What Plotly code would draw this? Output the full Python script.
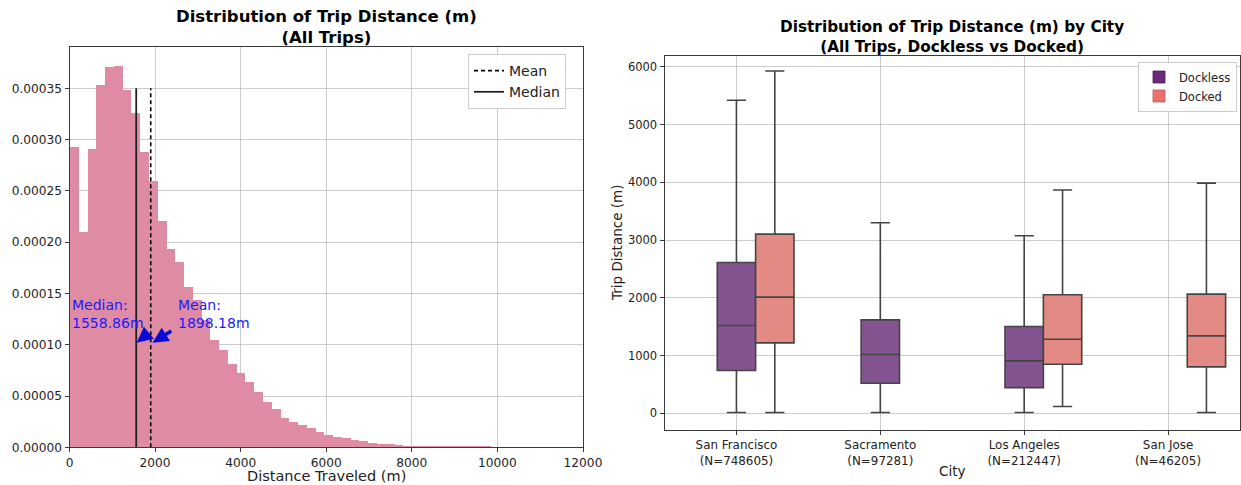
import plotly.graph_objects as go

# ---------------- data: left histogram ----------------
BIN_WIDTH = 205  # metres per histogram bin (bins start at 0)
DENSITY = [
    2.931e-4, 2.102e-4, 2.908e-4, 3.539e-4, 3.711e-4, 3.720e-4, 3.483e-4, 3.266e-4, 2.882e-4, 2.596e-4,
    2.209e-4, 1.936e-4, 1.807e-4, 1.566e-4, 1.436e-4, 1.241e-4, 1.046e-4, 9.55e-5, 8.12e-5, 7.31e-5,
    6.40e-5, 5.42e-5, 4.42e-5, 3.76e-5, 2.92e-5, 2.54e-5, 2.22e-5, 1.88e-5, 1.57e-5, 1.27e-5,
    1.05e-5, 9.7e-6, 7.8e-6, 6.4e-6, 4.5e-6, 3.9e-6, 3.2e-6, 2.5e-6, 2.0e-6, 1.6e-6,
    1.4e-6, 1.1e-6, 9e-7, 8e-7, 7e-7, 7e-7, 6e-7, 6e-7, 5e-7, 5e-7, 5e-7,
]
MEAN_DIST = 1898.18
MEDIAN_DIST = 1558.86
LINE_TOP = 0.00035
HIST_X_TICKS = [0, 2000, 4000, 6000, 8000, 10000, 12000]
HIST_Y_TICKS = [0, 0.00005, 0.0001, 0.00015, 0.0002, 0.00025, 0.0003, 0.00035]

# ---------------- data: right box plot ----------------
CITIES = ["San Francisco", "Sacramento", "Los Angeles", "San Jose"]
CITY_N = [748605, 97281, 212447, 46205]

DOCKLESS_CITIES = ["San Francisco", "Sacramento", "Los Angeles"]
DOCKLESS_LOW = [12, 12, 12]
DOCKLESS_Q1 = [740, 520, 445]
DOCKLESS_MED = [1520, 1017, 908]
DOCKLESS_Q3 = [2613, 1618, 1503]
DOCKLESS_HIGH = [5422, 3301, 3075]

DOCKED_CITIES = ["San Francisco", "Los Angeles", "San Jose"]
DOCKED_LOW = [12, 116, 12]
DOCKED_Q1 = [1220, 850, 803]
DOCKED_MED = [2012, 1283, 1341]
DOCKED_Q3 = [3104, 2052, 2064]
DOCKED_HIGH = [5931, 3867, 3988]

BOX_Y_TICKS = [0, 1000, 2000, 3000, 4000, 5000, 6000]

# ---------------- styling ----------------
FONT = "DejaVu Sans"
GRID = "rgba(185,185,185,0.75)"
SPINE = "#3a3a3a"
HIST_COLOR = "#e08ba4"
DOCKLESS_FILL = "#845490"
DOCKED_FILL = "#e48a84"
DOCKLESS_LEG = "#6b2a7c"
DOCKED_LEG = "#e8736c"
BOX_LINE = "#444444"

W, H = 1241, 485

def px_x(p):
    return p / W

def px_y(p):
    return 1 - p / H

fig = go.Figure()

# histogram
bin_centers = [BIN_WIDTH * (i + 0.5) for i in range(len(DENSITY))]
fig.add_trace(go.Bar(
    x=bin_centers, y=DENSITY, width=BIN_WIDTH,
    marker=dict(color=HIST_COLOR, line=dict(width=0)),
    showlegend=False, xaxis="x", yaxis="y",
))
fig.add_trace(go.Scatter(
    x=[MEAN_DIST, MEAN_DIST], y=[0, LINE_TOP], mode="lines",
    line=dict(color="black", width=1.6, dash="4px,3px"), name="Mean",
    xaxis="x", yaxis="y", legend="legend",
))
fig.add_trace(go.Scatter(
    x=[MEDIAN_DIST, MEDIAN_DIST], y=[0, LINE_TOP], mode="lines",
    line=dict(color="#222222", width=1.8), name="Median",
    xaxis="x", yaxis="y", legend="legend",
))

# box plots
fig.add_trace(go.Box(
    x=DOCKLESS_CITIES, q1=DOCKLESS_Q1, median=DOCKLESS_MED, q3=DOCKLESS_Q3,
    lowerfence=DOCKLESS_LOW, upperfence=DOCKLESS_HIGH,
    fillcolor=DOCKLESS_FILL, line=dict(color=BOX_LINE, width=1.6),
    whiskerwidth=0.5, name="Dockless", showlegend=False, offsetgroup="dl",
    xaxis="x2", yaxis="y2", hoverinfo="skip",
))
fig.add_trace(go.Box(
    x=DOCKED_CITIES, q1=DOCKED_Q1, median=DOCKED_MED, q3=DOCKED_Q3,
    lowerfence=DOCKED_LOW, upperfence=DOCKED_HIGH,
    fillcolor=DOCKED_FILL, line=dict(color=BOX_LINE, width=1.6),
    whiskerwidth=0.5, name="Docked", showlegend=False, offsetgroup="dk",
    xaxis="x2", yaxis="y2", hoverinfo="skip",
))
# legend swatches for box plot
fig.add_trace(go.Bar(
    x=[None], y=[None], name="Dockless",
    marker=dict(color=DOCKLESS_LEG, line=dict(color="#4a1d56", width=0.8)),
    xaxis="x2", yaxis="y2", legend="legend2",
))
fig.add_trace(go.Bar(
    x=[None], y=[None], name="Docked",
    marker=dict(color=DOCKED_LEG, line=dict(color="#b45a55", width=0.8)),
    xaxis="x2", yaxis="y2", legend="legend2",
))

tick_text = [f"{c}<br>(N={n})" for c, n in zip(CITIES, CITY_N)]

axis_common = dict(
    showline=True, linecolor=SPINE, linewidth=1, mirror=True,
    ticks="outside", ticklen=4, tickcolor=SPINE,
    showgrid=True, gridcolor=GRID, gridwidth=1, zeroline=False,
    layer="above traces", automargin=False,
)

fig.update_layout(
    width=W, height=H,
    margin=dict(l=0, r=0, t=0, b=0, autoexpand=False),
    paper_bgcolor="white", plot_bgcolor="white",
    font=dict(family=FONT, color="#222222"),
    bargap=0, barmode="overlay",
    boxmode="group", boxgap=0.2, boxgroupgap=0,
    xaxis=dict(
        domain=[px_x(69.5), px_x(583)], range=[0, 12000],
        tickvals=HIST_X_TICKS, tickformat="d", tickfont=dict(size=12.2), anchor="y",
        **axis_common,
    ),
    yaxis=dict(
        domain=[px_y(447.3), px_y(46.7)], range=[0, 0.0003906],
        tickvals=HIST_Y_TICKS, tickformat=".5f", tickfont=dict(size=12.2), anchor="x",
        **axis_common,
    ),
    xaxis2=dict(
        domain=[px_x(664.5), px_x(1240)], range=[-0.5, 3.5], type="category",
        categoryorder="array", categoryarray=CITIES,
        tickvals=CITIES, ticktext=tick_text, tickfont=dict(size=11.9), anchor="y2",
        **axis_common,
    ),
    yaxis2=dict(
        domain=[px_y(430), px_y(55.7)], range=[-290, 6195],
        tickvals=BOX_Y_TICKS, tickfont=dict(size=11.5), anchor="x2",
        **axis_common,
    ),
    legend=dict(
        x=px_x(468), y=px_y(54), xanchor="left", yanchor="top",
        bgcolor="rgba(255,255,255,0.9)", bordercolor="#cccccc", borderwidth=1,
        font=dict(size=14, family=FONT), tracegroupgap=0,
    ),
    legend2=dict(
        x=px_x(1138), y=px_y(61.5), xanchor="left", yanchor="top",
        bgcolor="rgba(255,255,255,0.9)", bordercolor="#cccccc", borderwidth=1,
        font=dict(size=11.5, family=FONT), tracegroupgap=0, itemwidth=30,
    ),
)

ann = []
# titles
ann.append(dict(text="<b>Distribution of Trip Distance (m)</b><br><b>(All Trips)</b>",
                x=px_x(326), y=px_y(5), xref="paper", yref="paper",
                xanchor="center", yanchor="top", showarrow=False,
                font=dict(size=16.5, family=FONT, color="black")))
ann.append(dict(text="<b>Distribution of Trip Distance (m) by City</b><br><b>(All Trips, Dockless vs Docked)</b>",
                x=px_x(952), y=px_y(16), xref="paper", yref="paper",
                xanchor="center", yanchor="top", showarrow=False,
                font=dict(size=15.3, family=FONT, color="black")))
# axis titles
ann.append(dict(text="Distance Traveled (m)", x=px_x(326), y=px_y(476),
                xref="paper", yref="paper", xanchor="center", yanchor="middle",
                showarrow=False, font=dict(size=14.5, family=FONT, color="#222222")))
ann.append(dict(text="City", x=px_x(952), y=px_y(471),
                xref="paper", yref="paper", xanchor="center", yanchor="middle",
                showarrow=False, font=dict(size=13.6, family=FONT, color="#222222")))
ann.append(dict(text="Trip Distance (m)", x=px_x(617), y=px_y(243), textangle=-90,
                xref="paper", yref="paper", xanchor="center", yanchor="middle",
                showarrow=False, font=dict(size=13.5, family=FONT, color="#222222")))
# mean / median labels
ann.append(dict(text="Median:<br>1558.86m", x=5, y=0.0001485, xref="x", yref="y",
                xanchor="left", yanchor="top", align="left", showarrow=False,
                font=dict(size=14, family=FONT, color="#1a1aff")))
ann.append(dict(text="Mean:<br>1898.18m", x=2500, y=0.0001485, xref="x", yref="y",
                xanchor="left", yanchor="top", align="left", showarrow=False,
                font=dict(size=14, family=FONT, color="#1a1aff")))
# arrows
ann.append(dict(text="", x=1940, y=0.000102, ax=2414, ay=0.0001144,
                xref="x", yref="y", axref="x", ayref="y",
                showarrow=True, arrowhead=2, arrowsize=0.9, arrowwidth=3.5,
                arrowcolor="#0a0ad0"))
ann.append(dict(text="", x=1570, y=0.000102, ax=1790, ay=0.0001095,
                xref="x", yref="y", axref="x", ayref="y",
                showarrow=True, arrowhead=2, arrowsize=0.9, arrowwidth=3.5,
                arrowcolor="#0a0ad0"))
fig.update_layout(annotations=ann)

fig.write_html("out.html", config={"displayModeBar": False},
               post_script="document.body.style.margin='0px';")
